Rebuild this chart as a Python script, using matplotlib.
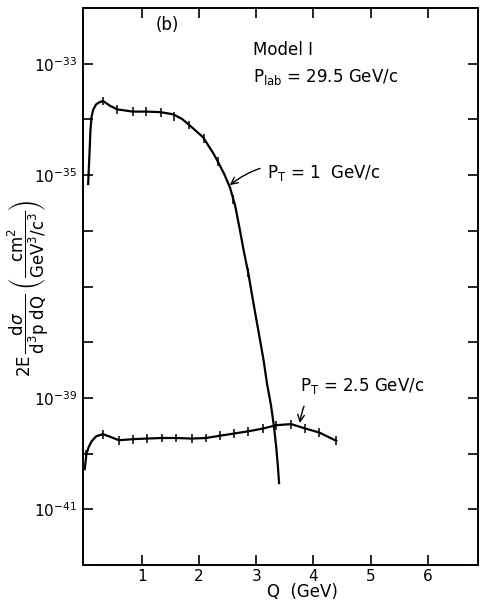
import numpy as np
import matplotlib
matplotlib.use("Agg")
import matplotlib.pyplot as plt
from matplotlib.ticker import FixedLocator, FixedFormatter

# P_T = 1 GeV/c curve (Q in GeV, log10 of cross-section)
pt1_q = [0.06, 0.08, 0.10, 0.12, 0.15, 0.20, 0.26, 0.32, 0.45, 0.57, 0.84, 1.08,
         1.33, 1.55, 1.70, 1.84, 2.07, 2.25, 2.33, 2.44, 2.54, 2.63, 2.71, 2.78,
         2.86, 2.92, 2.99, 3.06, 3.13, 3.19, 3.26, 3.31, 3.35, 3.38, 3.40]
pt1_log = [-35.16, -34.70, -34.20, -33.95, -33.82, -33.73, -33.69, -33.67, -33.76,
           -33.82, -33.86, -33.86, -33.87, -33.91, -33.99, -34.11, -34.32, -34.61,
           -34.76, -34.98, -35.22, -35.54, -35.96, -36.35, -36.75, -37.11, -37.52,
           -37.92, -38.33, -38.75, -39.14, -39.51, -39.88, -40.24, -40.53]
pt1_err_q = [0.32, 0.57, 0.84, 1.07, 1.33, 1.57, 1.82, 2.08, 2.33, 2.60, 2.86]
pt1_err_log = [-33.67, -33.82, -33.86, -33.86, -33.87, -33.94, -34.10, -34.34,
               -34.76, -35.44, -36.75]

# P_T = 2.5 GeV/c curve
pt25_q = [0.0, 0.03, 0.07, 0.12, 0.20, 0.32, 0.45, 0.60, 0.85, 1.09, 1.35, 1.60,
          1.87, 2.12, 2.36, 2.61, 2.86, 3.12, 3.35, 3.61, 3.86, 4.10, 4.40]
pt25_log = [-40.28, -40.01, -39.88, -39.78, -39.69, -39.65, -39.70, -39.76, -39.74,
            -39.73, -39.72, -39.72, -39.73, -39.72, -39.68, -39.64, -39.60, -39.55,
            -39.49, -39.47, -39.55, -39.62, -39.77]
pt25_err_q = [0.03, 0.32, 0.60, 0.85, 1.09, 1.35, 1.60, 1.87, 2.12, 2.36, 2.61,
              2.86, 3.12, 3.35, 3.61, 3.86, 4.10, 4.40]
pt25_err_log = [-40.01, -39.65, -39.76, -39.74, -39.73, -39.72, -39.72, -39.73,
                -39.72, -39.68, -39.64, -39.60, -39.55, -39.49, -39.47, -39.55,
                -39.62, -39.77]

x_ticks = [1, 2, 3, 4, 5, 6]
x_ticklabels = ["1", "2", "3", "4", "5", "6"]
y_label_exps = [-33, -35, -39, -41]

plt.rcParams['font.family'] = ['DejaVu Sans']
fig = plt.figure(figsize=(4.83, 6.02), dpi=100)
ax = fig.add_axes([83/483, 1-565/602, (478-83)/483, (565-8)/602])

lw = 1.6
ax.plot(pt1_q, 10.0**np.array(pt1_log), color='black', lw=lw, solid_joinstyle='round')
ax.plot(pt25_q, 10.0**np.array(pt25_log), color='black', lw=lw, solid_joinstyle='round')

def bars(qs, logs):
    v = 10.0**np.array(logs)
    lo = v - v*10**(-0.08)
    hi = v*10**(0.08) - v
    ax.errorbar(qs, v, yerr=[lo, hi], fmt='none', ecolor='black', elinewidth=1.1, capsize=0)

bars(pt1_err_q, pt1_err_log)
bars(pt25_err_q, pt25_err_log)

ax.set_yscale('log')
ax.set_xlim(-0.03, 6.88)
ax.set_ylim(1e-42, 1e-32)

ax.xaxis.set_major_locator(FixedLocator(x_ticks))
ax.xaxis.set_major_formatter(FixedFormatter(x_ticklabels))
ax.xaxis.set_minor_locator(FixedLocator([]))
yt = [10.0**e for e in range(-42, -31)]
ax.yaxis.set_major_locator(FixedLocator(yt))
ax.yaxis.set_major_formatter(FixedFormatter(
    [(r'$10^{%d}$' % e if e in y_label_exps else '') for e in range(-42, -31)]))
ax.yaxis.set_minor_locator(FixedLocator([]))
ax.tick_params(which='major', direction='in', length=7, width=1.2,
               top=True, right=True, labelsize=11, pad=4)
ax.tick_params(axis='x', pad=3)
for s in ax.spines.values():
    s.set_linewidth(1.4)

fig.text(302/483, 1-592/602, 'Q  (GeV)', fontsize=12, ha='center', va='center')
fig.text(28/483, 1-288/602,
         r'$\mathrm{2E}\,\dfrac{\mathrm{d}\sigma}{\mathrm{d^3p\;dQ}}\;\left(\dfrac{\mathrm{cm^2}}{\mathrm{GeV^3/c^3}}\right)$',
         fontsize=12, ha='center', va='center', rotation=90)

def py(pix_y):
    return 10.0**(-33 - (pix_y - 64)/55.5)
def px(pix_x):
    return (pix_x - 84.8)/57.2

ax.text(px(167), py(25), '(b)', fontsize=12, ha='center', va='center')
ax.text(px(253), py(50), 'Model I', fontsize=12, ha='left', va='center')
ax.text(px(253), py(77), r'P$_{\rm lab}$ = 29.5 GeV/c', fontsize=12, ha='left', va='center')

ax.annotate(r'P$_{\rm T}$ = 1  GeV/c', xy=(px(230), py(185)), xytext=(px(267), py(173)),
            fontsize=12, ha='left', va='center',
            arrowprops=dict(arrowstyle='->', color='black', lw=1.0,
                            shrinkA=3, shrinkB=0,
                            connectionstyle='arc3,rad=0.3'))
ax.annotate(r'P$_{\rm T}$ = 2.5 GeV/c', xy=(px(300), py(422)), xytext=(px(300), py(385)),
            fontsize=12, ha='left', va='center',
            arrowprops=dict(arrowstyle='->', color='black', lw=1.0,
                            shrinkA=6, shrinkB=0,
                            connectionstyle='arc3,rad=0.6'))

fig.savefig('out.png', dpi=100)
